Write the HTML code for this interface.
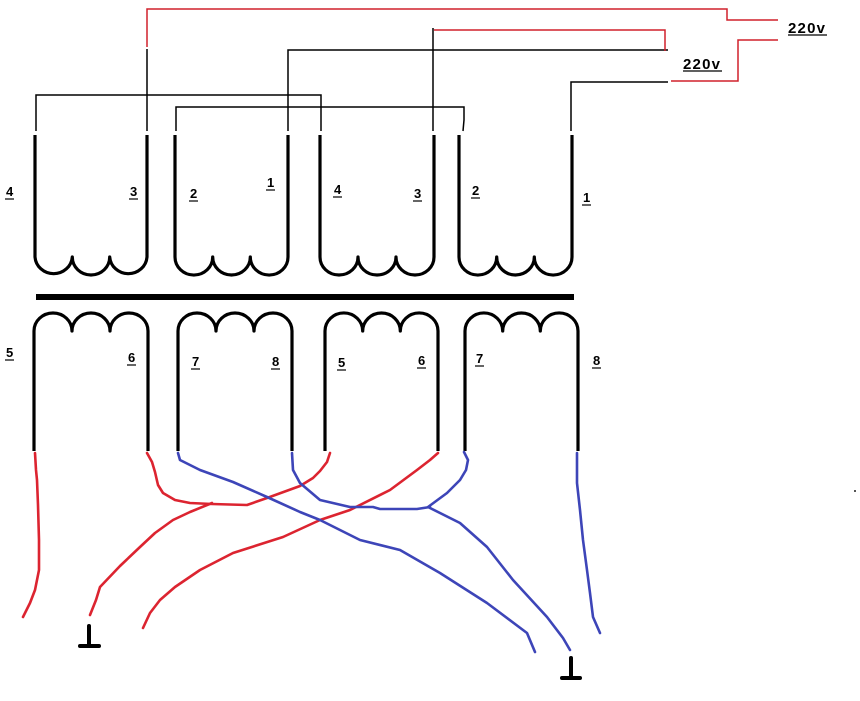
<!DOCTYPE html>
<html><head><meta charset="utf-8"><style>
html,body{margin:0;padding:0;background:#fff;}
svg{display:block;}
text{font-family:"Liberation Sans",sans-serif;fill:#000;}
</style></head><body>
<svg width="860" height="701" viewBox="0 0 860 701" xmlns="http://www.w3.org/2000/svg">
<rect width="860" height="701" fill="#fff"/>
<!-- thin black connectors -->
<g fill="none" stroke="#000" stroke-width="1.5">
<polyline points="36,131 36,95 321,95 321,131"/>
<polyline points="176,131 176,107 464,107 464,120 463,131"/>
<polyline points="147,131 147,49"/>
<polyline points="288,131 288,50 668,50"/>
<polyline points="433,131 433,28"/>
<polyline points="571,131 571,82 668,82"/>
</g>
<!-- thin red connectors -->
<g fill="none" stroke="#d0202c" stroke-width="1.5">
<polyline points="147,47 147,9 727,9 727,20 778,20"/>
<polyline points="434,30 665,30 665,51"/>
<polyline points="671,81 738,81 738,40 778,40"/>
</g>
<!-- 220v labels -->
<text x="788" y="33" font-size="15" font-weight="bold" letter-spacing="1.2">220v</text>
<line x1="788" y1="35" x2="827" y2="35" stroke="#000" stroke-width="1.2"/>
<text x="683" y="69" font-size="15" font-weight="bold" letter-spacing="1.2">220v</text>
<line x1="683" y1="71" x2="722" y2="71" stroke="#000" stroke-width="1.2"/>

<!-- top coils -->
<g fill="none" stroke="#000" stroke-width="3.2" stroke-linejoin="round">
<path d="M35,135 L35,257 A18.7,18 0 0 0 72.3,257 A18.7,18 0 0 0 109.7,257 A18.7,18 0 0 0 147,257 L147,135"/>
<path d="M175,135 L175,257 A18.8,18 0 0 0 212.7,257 A18.8,18 0 0 0 250.3,257 A18.8,18 0 0 0 288,257 L288,135"/>
<path d="M320,135 L320,257 A19,18 0 0 0 358,257 A19,18 0 0 0 396,257 A19,18 0 0 0 434,257 L434,135"/>
<path d="M459,135 L459,257 A18.8,18 0 0 0 496.7,257 A18.8,18 0 0 0 534.3,257 A18.8,18 0 0 0 572,257 L572,135"/>
<!-- bottom coils -->
<path d="M34,451 L34,331 A19,18 0 0 1 72,331 A19,18 0 0 1 110,331 A19,18 0 0 1 148,331 L148,451"/>
<path d="M178,451 L178,331 A19,18 0 0 1 216,331 A19,18 0 0 1 254,331 A19,18 0 0 1 292,331 L292,451"/>
<path d="M325,451 L325,331 A18.8,18 0 0 1 362.7,331 A18.8,18 0 0 1 400.3,331 A18.8,18 0 0 1 438,331 L438,451"/>
<path d="M465,451 L465,331 A18.8,18 0 0 1 502.7,331 A18.8,18 0 0 1 540.3,331 A18.8,18 0 0 1 578,331 L578,451"/>
</g>
<!-- core bar -->
<rect x="36" y="294" width="538" height="6" fill="#000"/>

<!-- number labels -->
<g font-size="13" font-weight="bold">
<text x="6" y="196">4</text>
<text x="130" y="196">3</text>
<text x="190" y="198">2</text>
<text x="267" y="187">1</text>
<text x="334" y="194">4</text>
<text x="414" y="198">3</text>
<text x="472" y="195">2</text>
<text x="583" y="202">1</text>
<text x="6" y="357">5</text>
<text x="128" y="362">6</text>
<text x="192" y="366">7</text>
<text x="272" y="366">8</text>
<text x="338" y="367">5</text>
<text x="418" y="365">6</text>
<text x="476" y="363">7</text>
<text x="593" y="365">8</text>
</g>
<g stroke="#000" stroke-width="1.2">
<line x1="5" y1="199" x2="14" y2="199"/>
<line x1="129" y1="199" x2="138" y2="199"/>
<line x1="189" y1="201" x2="198" y2="201"/>
<line x1="266" y1="190" x2="275" y2="190"/>
<line x1="333" y1="197" x2="342" y2="197"/>
<line x1="413" y1="201" x2="422" y2="201"/>
<line x1="471" y1="198" x2="480" y2="198"/>
<line x1="582" y1="205" x2="591" y2="205"/>
<line x1="5" y1="360" x2="14" y2="360"/>
<line x1="127" y1="365" x2="136" y2="365"/>
<line x1="191" y1="369" x2="200" y2="369"/>
<line x1="271" y1="369" x2="280" y2="369"/>
<line x1="337" y1="370" x2="346" y2="370"/>
<line x1="417" y1="368" x2="426" y2="368"/>
<line x1="475" y1="366" x2="484" y2="366"/>
<line x1="592" y1="368" x2="601" y2="368"/>
</g>

<!-- red wires -->
<g fill="none" stroke="#dc2430" stroke-width="2.6" stroke-linejoin="round" stroke-linecap="round">
<polyline points="35,453 36,470 37,480 38,505 39,540 39,570 35,590 30,603 23,617"/>
<polyline points="147,453 152,462 155,472 158,485 163,493 175,500 190,503 212,504 247,505 267,498 300,486 313,478 320,471 327,462 330,453"/>
<polyline points="212,503 190,512 173,520 155,533 140,547 120,566 100,587 96,600 90,615"/>
<polyline points="438,453 430,460 417,470 390,490 350,510 320,520 283,537 233,553 200,570 175,587 160,600 150,613 143,628"/>
</g>
<!-- blue wires -->
<g fill="none" stroke="#3d45b8" stroke-width="2.6" stroke-linejoin="round" stroke-linecap="round">
<polyline points="178,453 180,460 200,470 233,482 267,497 300,512 320,520 360,540 400,550 440,573 487,603 527,633 535,652"/>
<polyline points="292,453 293,470 300,483 320,500 350,507 373,507 380,509 417,509 430,507"/>
<polyline points="464,452 468,460 466,470 460,480 447,493 428,507 460,523 487,547 513,580 547,617 563,638 570,650"/>
<polyline points="577,453 577,483 580,510 583,540 587,570 590,593 593,617 600,633"/>
</g>
<!-- grounds -->
<g stroke="#000" stroke-width="4" stroke-linecap="round">
<line x1="89" y1="626" x2="89" y2="645"/>
<line x1="80" y1="646" x2="99" y2="646"/>
<line x1="571" y1="658" x2="571" y2="677"/>
<line x1="562" y1="678" x2="580" y2="678"/>
</g>
<rect x="854" y="490" width="2" height="2" fill="#555"/>
</svg>
</body></html>
